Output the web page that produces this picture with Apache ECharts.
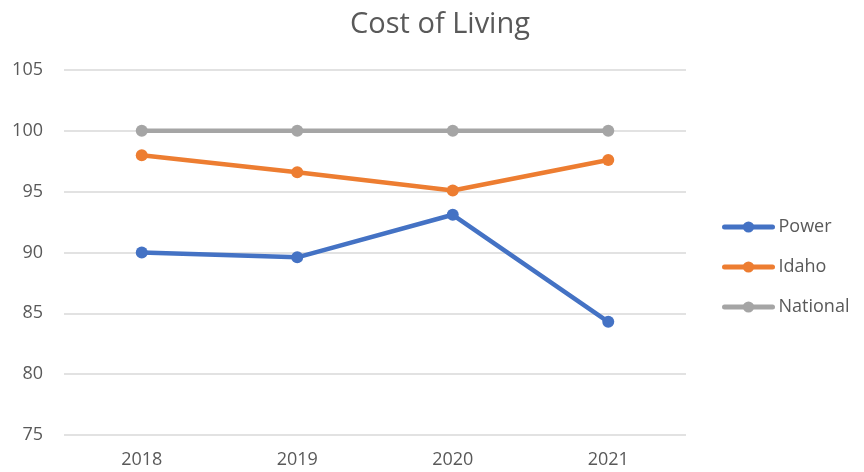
<!DOCTYPE html>
<html>
<head>
<meta charset="utf-8">
<script src="https://cdn.jsdelivr.net/npm/echarts@6/dist/echarts.min.js"></script>
<style>
  html, body { margin: 0; padding: 0; background: #fff; }
  #chart { width: 864px; height: 472px; }
</style>
</head>
<body>
<div id="chart"></div>
<script>
// 数据
const years = ['2018', '2019', '2020', '2021'];
const power = [90.0, 89.6, 93.1, 84.3];
const idaho = [98.0, 96.6, 95.1, 97.6];
const national = [100, 100, 100, 100];

const font = 'Open Sans';
const textColor = '#595959';

const chart = echarts.init(document.getElementById('chart'));

function lineSeries(name, data, color) {
    return {
        name: name,
        type: 'line',
        data: data,
        symbol: 'circle',
        symbolSize: 12,
        lineStyle: { width: 4.5, color: color },
        itemStyle: { color: color },
        emphasis: { disabled: true }
    };
}

chart.setOption({
    animation: false,
    title: {
        text: 'Cost of Living',
        left: 435,
        top: 5,
        textAlign: 'center',
        textStyle: { fontFamily: font, fontSize: 29, fontWeight: 'normal', color: textColor }
    },
    legend: {
        orient: 'vertical',
        left: 722,
        top: 218,
        padding: 0,
        itemWidth: 48,
        itemHeight: 14,
        itemGap: 22,
        lineStyle: { width: 5, cap: 'round' },
        textStyle: { fontFamily: font, fontSize: 18, color: textColor, padding: [0, 0, 0, 1] },
        data: ['Power', 'Idaho', 'National']
    },
    grid: { left: 64, right: 178, top: 70, bottom: 37 },
    xAxis: {
        type: 'category',
        data: years,
        boundaryGap: true,
        axisLine: { show: false },
        axisTick: { show: false },
        axisLabel: { fontFamily: font, fontSize: 18, color: textColor, margin: 16 }
    },
    yAxis: {
        type: 'value',
        min: 75,
        max: 105,
        interval: 5,
        axisLine: { show: false },
        axisTick: { show: false },
        axisLabel: { fontFamily: font, fontSize: 18, color: textColor, margin: 21 },
        splitLine: { lineStyle: { color: '#D9D9D9', width: 1.5 } }
    },
    series: [
        lineSeries('Power', power, '#4472C4'),
        lineSeries('Idaho', idaho, '#ED7D31'),
        lineSeries('National', national, '#A5A5A5')
    ]
});
</script>
</body>
</html>
